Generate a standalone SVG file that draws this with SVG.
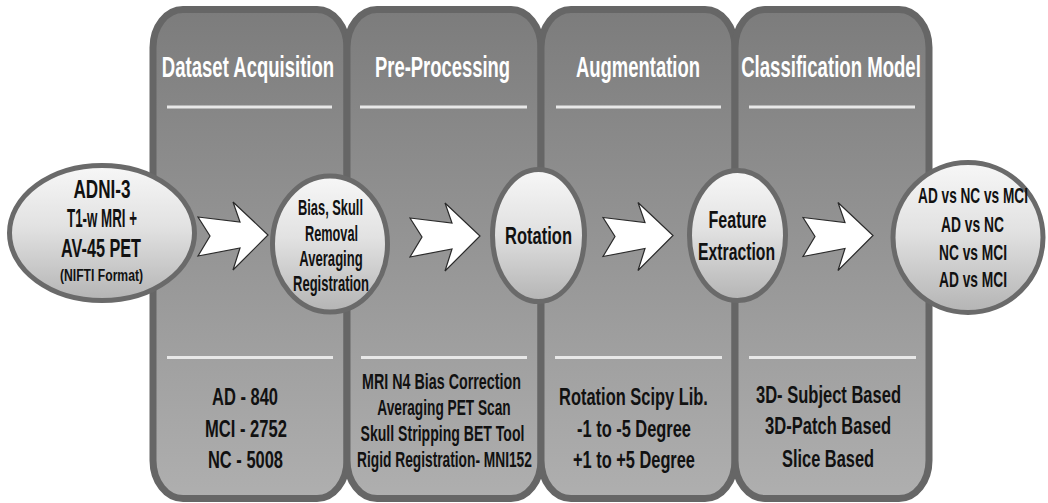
<svg xmlns="http://www.w3.org/2000/svg" width="1048" height="503" viewBox="0 0 1048 503">
<defs>
<linearGradient id="pg" x1="0" y1="0" x2="0" y2="1">
<stop offset="0" stop-color="#7c7c7c"/>
<stop offset="1" stop-color="#afafaf"/>
</linearGradient>
<linearGradient id="eg" x1="0" y1="0" x2="0" y2="1">
<stop offset="0" stop-color="#f7f7f7"/>
<stop offset="0.45" stop-color="#e2e2e2"/>
<stop offset="1" stop-color="#b4b4b4"/>
</linearGradient>
<path id="arr" d="M-70,-18 L-28,-13 L-35,-33 L0,0 L-35,35 L-28,13 L-70,21 L-58,1 Z"/>
<style>
.panel{fill:url(#pg);stroke:#666;stroke-width:7}
.div{stroke:#e8e8e8;stroke-width:3}
.ell{fill:url(#eg);stroke:#6a6a6a;stroke-width:5}
.hd{font-family:"Liberation Sans",Arial,sans-serif;font-weight:bold;font-size:30px;fill:#ffffff;text-anchor:middle}
.t{font-family:"Liberation Sans",Arial,sans-serif;font-weight:bold;fill:#111111;text-anchor:middle}
.arw{fill:#ffffff;stroke:#2a2a2a;stroke-width:1.2;stroke-linejoin:miter}
</style>
</defs>
<rect width="1048" height="503" fill="#ffffff"/>

<g id="panel-dataset">
<rect class="panel" x="153" y="9.5" width="194" height="489" rx="30" ry="38"/>
<line class="div" x1="167" y1="107" x2="332" y2="107"/>
<line class="div" x1="167" y1="357.5" x2="333" y2="357.5"/>
<text class="hd" transform="translate(248,77) scale(0.618,1)">Dataset Acquisition</text>
<text class="t" font-size="23" transform="translate(245,405) scale(0.717,1)">AD - 840</text>
<text class="t" font-size="23" transform="translate(246,437) scale(0.72,1)">MCI - 2752</text>
<text class="t" font-size="23" transform="translate(245.5,468) scale(0.716,1)">NC - 5008</text>
</g>

<g id="panel-preprocessing">
<rect class="panel" x="347" y="9.5" width="194" height="489" rx="30" ry="38"/>
<line class="div" x1="360" y1="107" x2="527" y2="107"/>
<line class="div" x1="361" y1="357.5" x2="527" y2="357.5"/>
<text class="hd" transform="translate(442.5,77) scale(0.614,1)">Pre-Processing</text>
<text class="t" font-size="22" transform="translate(441.5,389) scale(0.65,1)">MRI N4 Bias Correction</text>
<text class="t" font-size="22" transform="translate(444,415) scale(0.622,1)">Averaging PET Scan</text>
<text class="t" font-size="22" transform="translate(442.5,441) scale(0.64,1)">Skull Stripping BET Tool</text>
<text class="t" font-size="22" transform="translate(444.5,467) scale(0.625,1)">Rigid Registration- MNI152</text>
</g>

<g id="panel-augmentation">
<rect class="panel" x="541" y="9.5" width="194" height="489" rx="30" ry="38"/>
<line class="div" x1="556" y1="107" x2="721" y2="107"/>
<line class="div" x1="555" y1="357.5" x2="722" y2="357.5"/>
<text class="hd" transform="translate(638,77) scale(0.615,1)">Augmentation</text>
<text class="t" font-size="23" transform="translate(633.5,405) scale(0.715,1)">Rotation Scipy Lib.</text>
<text class="t" font-size="23" transform="translate(634,437) scale(0.713,1)">-1 to -5 Degree</text>
<text class="t" font-size="23" transform="translate(634,468) scale(0.712,1)">+1 to +5 Degree</text>
</g>

<g id="panel-classification">
<rect class="panel" x="735" y="9.5" width="194" height="489" rx="30" ry="38"/>
<line class="div" x1="749" y1="107" x2="915" y2="107"/>
<line class="div" x1="749" y1="357.5" x2="916" y2="357.5"/>
<text class="hd" transform="translate(831,77) scale(0.62,1)">Classification Model</text>
<text class="t" font-size="23" transform="translate(828.5,403) scale(0.718,1)">3D- Subject Based</text>
<text class="t" font-size="23" transform="translate(828,434) scale(0.72,1)">3D-Patch Based</text>
<text class="t" font-size="23" transform="translate(828,467) scale(0.713,1)">Slice Based</text>
</g>

<g id="connectors">
<use href="#arr" class="arw" x="268" y="235"/>
<use href="#arr" class="arw" x="480" y="236"/>
<use href="#arr" class="arw" x="673" y="235.5"/>
<use href="#arr" class="arw" x="873" y="235.5"/>
</g>

<g id="node-input">
<ellipse class="ell" cx="102" cy="233" rx="92.5" ry="67.5"/>
<text class="t" font-size="25" transform="translate(102,198) scale(0.684,1)">ADNI-3</text>
<text class="t" font-size="25" transform="translate(102,227) scale(0.533,1)">T1-w MRI +</text>
<text class="t" font-size="25" transform="translate(101,257) scale(0.649,1)">AV-45 PET</text>
<text class="t" font-size="16" transform="translate(101.5,281) scale(0.76,1)">(NIFTI Format)</text>
</g>

<g id="node-preprocess">
<ellipse class="ell" cx="330" cy="244" rx="57.5" ry="68"/>
<text class="t" font-size="22.5" transform="translate(330.5,215) scale(0.571,1)">Bias, Skull</text>
<text class="t" font-size="22.5" transform="translate(331.5,241) scale(0.566,1)">Removal</text>
<text class="t" font-size="22.5" transform="translate(331,266) scale(0.581,1)">Averaging</text>
<text class="t" font-size="22.5" transform="translate(331,291) scale(0.579,1)">Registration</text>
</g>

<g id="node-rotation">
<ellipse class="ell" cx="538.5" cy="235.5" rx="46" ry="66"/>
<text class="t" font-size="23" transform="translate(538.5,244) scale(0.718,1)">Rotation</text>
</g>

<g id="node-feature">
<ellipse class="ell" cx="737.5" cy="235.5" rx="48" ry="65"/>
<text class="t" font-size="23" transform="translate(737.5,228) scale(0.698,1)">Feature</text>
<text class="t" font-size="23" transform="translate(736.5,260) scale(0.685,1)">Extraction</text>
</g>

<g id="node-output">
<ellipse class="ell" cx="968" cy="237.5" rx="75" ry="75"/>
<text class="t" font-size="22" transform="translate(973,203) scale(0.62,1)">AD vs NC vs MCI</text>
<text class="t" font-size="22" transform="translate(972.5,232) scale(0.628,1)">AD vs NC</text>
<text class="t" font-size="22" transform="translate(973,260) scale(0.625,1)">NC vs MCI</text>
<text class="t" font-size="22" transform="translate(973,287) scale(0.625,1)">AD vs MCI</text>
</g>
</svg>
